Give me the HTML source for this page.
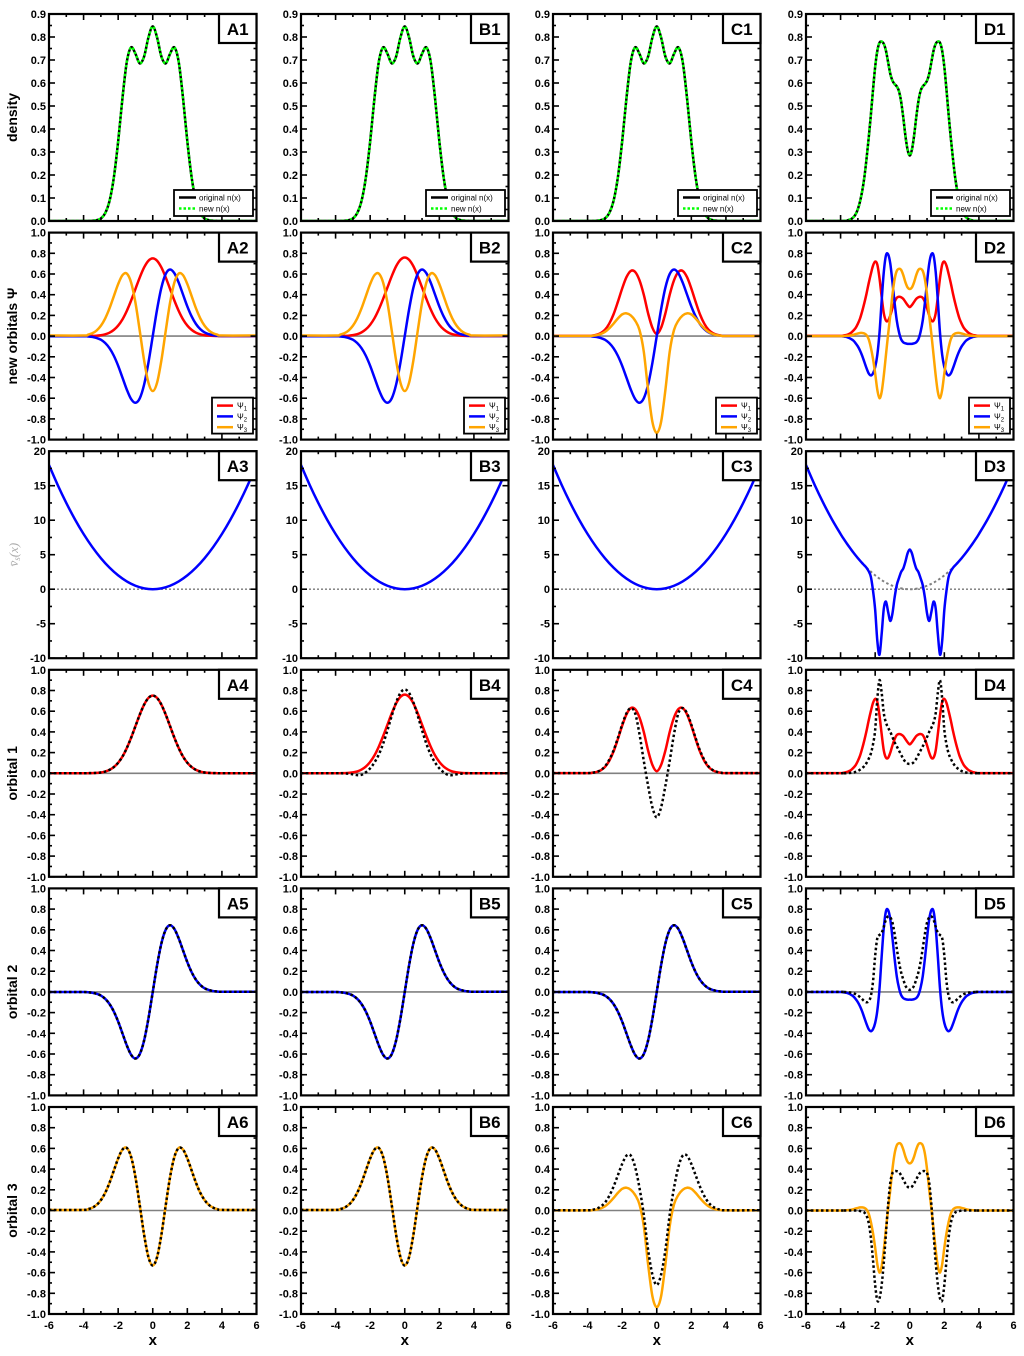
<!DOCTYPE html>
<html><head><meta charset="utf-8"><style>
html,body{margin:0;padding:0;background:#fff;}
svg text{font-family:"Liberation Sans",sans-serif;}
</style></head><body>
<svg id="fig" xmlns="http://www.w3.org/2000/svg" width="1024" height="1351" viewBox="0 0 1024 1351"></svg>
<script>
// ---------- data ----------
const nA = [0,0.0002,0.0008,0.0035,0.011,0.034,0.087,0.189,0.346,0.535,0.692,0.755,0.727,0.685,0.715,0.798,0.846,0.798,0.715,0.685,0.727,0.755,0.692,0.535,0.346,0.189,0.087,0.034,0.011,0.0035,0.0008,0.0002,0];
const psi0A = [0,0.001,0.002,0.004,0.008,0.017,0.033,0.060,0.102,0.162,0.244,0.344,0.456,0.567,0.663,0.728,0.751,0.728,0.663,0.567,0.456,0.344,0.244,0.162,0.102,0.060,0.033,0.017,0.008,0.004,0.002,0.001,0];
const psi1A = [-0.0014,-0.0035,-0.008,-0.018,-0.035,-0.067,-0.117,-0.190,-0.287,-0.402,-0.517,-0.608,-0.644,-0.601,-0.469,-0.257,0,0.257,0.469,0.601,0.644,0.608,0.517,0.402,0.287,0.190,0.117,0.067,0.035,0.018,0.008,0.0035,0.0014];
const psi2A = [0.0055,0.013,0.027,0.054,0.100,0.171,0.268,0.386,0.503,0.589,0.604,0.517,0.322,0.050,-0.234,-0.450,-0.531,-0.450,-0.234,0.050,0.322,0.517,0.604,0.589,0.503,0.386,0.268,0.171,0.100,0.054,0.027,0.013,0.0055];
const bRed = [0,0.001,0.002,0.004,0.009,0.018,0.036,0.065,0.11,0.173,0.258,0.36,0.47,0.58,0.675,0.738,0.76,0.738,0.675,0.58,0.47,0.36,0.258,0.173,0.11,0.065,0.036,0.018,0.009,0.004,0.002,0.001,0];
const bBlack1 = [0,0,-0.001,-0.004,-0.01,-0.018,-0.015,0.01,0.048,0.105,0.181,0.286,0.416,0.557,0.685,0.777,0.81,0.777,0.685,0.557,0.416,0.286,0.181,0.105,0.048,0.01,-0.015,-0.018,-0.01,-0.004,-0.001,0,0];
const cRed = [0.002,0.005,0.012,0.028,0.06,0.12,0.21,0.33,0.46,0.57,0.63,0.62,0.54,0.40,0.22,0.08,0.02,0.08,0.22,0.40,0.54,0.62,0.63,0.57,0.46,0.33,0.21,0.12,0.06,0.028,0.012,0.005,0.002];
const cBlack1 = [0.002,0.005,0.013,0.03,0.065,0.13,0.22,0.34,0.47,0.58,0.63,0.58,0.38,0.12,-0.12,-0.33,-0.425,-0.33,-0.12,0.12,0.38,0.58,0.63,0.58,0.47,0.34,0.22,0.13,0.065,0.03,0.013,0.005,0.002];
const cOrange = [0.001,0.003,0.008,0.02,0.04,0.075,0.12,0.17,0.21,0.22,0.20,0.15,0.06,-0.15,-0.52,-0.83,-0.935,-0.83,-0.52,-0.15,0.06,0.15,0.20,0.22,0.21,0.17,0.12,0.075,0.04,0.02,0.008,0.003,0.001];
const cBlack3 = [0.002,0.006,0.016,0.037,0.075,0.14,0.23,0.34,0.45,0.53,0.53,0.42,0.22,-0.04,-0.38,-0.62,-0.72,-0.62,-0.38,-0.04,0.22,0.42,0.53,0.53,0.45,0.34,0.23,0.14,0.075,0.037,0.016,0.006,0.002];
const dDens = [0,0,0.001,0.002,0.005,0.009,0.017,0.03,0.052,0.085,0.13,0.19,0.27,0.36,0.46,0.57,0.67,0.74,0.775,0.78,0.77,0.74,0.69,0.64,0.61,0.595,0.585,0.565,0.52,0.45,0.37,0.31,
 0.285,0.31,0.37,0.45,0.52,0.565,0.585,0.595,0.61,0.64,0.69,0.74,0.77,0.78,0.775,0.74,0.67,0.57,0.46,0.36,0.27,0.19,0.13,0.085,0.052,0.03,0.017,0.009,0.005,0.002,0.001,0,0];
const dRed = [0.002,0.004,0.008,0.013,0.022,0.035,0.055,0.08,0.12,0.17,0.24,0.32,0.41,0.51,0.60,0.68,0.72,0.69,0.56,0.38,0.22,0.15,0.15,0.20,0.27,0.33,0.37,0.38,0.375,0.36,0.33,0.30,
 0.28,0.30,0.33,0.36,0.375,0.38,0.37,0.33,0.27,0.20,0.15,0.15,0.22,0.38,0.56,0.69,0.72,0.68,0.60,0.51,0.41,0.32,0.24,0.17,0.12,0.08,0.055,0.035,0.022,0.013,0.008,0.004,0.002];
const dBlack1 = [0,0,0,0.001,0.003,0.005,0.008,0.014,0.022,0.035,0.05,0.07,0.10,0.14,0.19,0.28,0.42,0.72,0.90,0.78,0.58,0.49,0.44,0.40,0.35,0.30,0.26,0.22,0.18,0.14,0.11,0.095,
 0.09,0.095,0.11,0.14,0.18,0.22,0.26,0.30,0.35,0.40,0.44,0.49,0.58,0.78,0.90,0.72,0.42,0.28,0.19,0.14,0.10,0.07,0.05,0.035,0.022,0.014,0.008,0.005,0.003,0.001,0,0,0];
const dBlue = [-0.001,-0.003,-0.006,-0.01,-0.018,-0.03,-0.045,-0.07,-0.10,-0.14,-0.19,-0.25,-0.31,-0.36,-0.38,-0.36,-0.30,-0.18,0.03,0.34,0.62,0.78,0.79,0.70,0.52,0.32,0.15,0.04,-0.03,-0.06,-0.07,-0.075,
 -0.075,-0.075,-0.07,-0.06,-0.03,0.04,0.15,0.32,0.52,0.70,0.79,0.78,0.62,0.34,0.03,-0.18,-0.30,-0.36,-0.38,-0.36,-0.31,-0.25,-0.19,-0.14,-0.10,-0.07,-0.045,-0.03,-0.018,-0.01,-0.006,-0.003,-0.001];
const dBlack2 = [0,0,-0.001,-0.003,-0.005,-0.008,-0.014,-0.022,-0.035,-0.05,-0.07,-0.09,-0.10,-0.09,-0.04,0.10,0.35,0.52,0.55,0.57,0.63,0.70,0.73,0.72,0.67,0.56,0.42,0.29,0.19,0.12,0.06,0.03,
 0.02,0.03,0.06,0.12,0.19,0.29,0.42,0.56,0.67,0.72,0.73,0.70,0.63,0.57,0.55,0.52,0.35,0.10,-0.04,-0.09,-0.10,-0.09,-0.07,-0.05,-0.035,-0.022,-0.014,-0.008,-0.005,-0.003,-0.001,0,0];
const dOrange = [0,0,0.001,0.003,0.005,0.008,0.013,0.02,0.025,0.03,0.03,0.025,0.01,-0.03,-0.11,-0.22,-0.36,-0.52,-0.60,-0.54,-0.38,-0.18,0.02,0.20,0.40,0.55,0.63,0.65,0.64,0.59,0.52,0.47,
 0.455,0.47,0.52,0.59,0.64,0.65,0.63,0.55,0.40,0.20,0.02,-0.18,-0.38,-0.54,-0.60,-0.52,-0.36,-0.22,-0.11,-0.03,0.01,0.025,0.03,0.03,0.025,0.02,0.013,0.008,0.005,0.003,0.001,0,0];
const dBlack3 = [0,0,0,0,0,0,0,0,0,-0.005,-0.01,-0.02,-0.05,-0.12,-0.26,-0.48,-0.72,-0.87,-0.85,-0.72,-0.50,-0.22,0.06,0.27,0.36,0.38,0.38,0.37,0.34,0.30,0.26,0.23,
 0.22,0.23,0.26,0.30,0.34,0.37,0.38,0.38,0.36,0.27,0.06,-0.22,-0.50,-0.72,-0.85,-0.87,-0.72,-0.48,-0.26,-0.12,-0.05,-0.02,-0.01,-0.005,0,0,0,0,0,0,0,0,0];
const potA = [18,15.125,12.5,10.125,8,6.125,4.5,3.125,2,1.125,0.5,0.125,0,0.125,0.5,1.125,2,3.125,4.5,6.125,8,10.125,12.5,15.125,18];
const potDOuterL = [18,15.125,12.5,10.125];
const potDOuterR = [10.125,12.5,15.125,18];
const potD = [8.0,7.5,7.03,6.57,6.13,5.7,5.28,4.88,4.5,4.13,3.78,3.45,3.1,2.6,1.8,-0.2,-3.0,-7.5,-9.5,-6.5,-2.8,-1.8,-3.3,-4.6,-3.5,-1.2,0.6,1.6,2.5,3.0,4.0,5.2,
 5.75,5.2,4.0,3.0,2.5,1.6,0.6,-1.2,-3.5,-4.6,-3.3,-1.8,-2.8,-6.5,-9.5,-7.5,-3.0,-0.2,1.8,2.6,3.1,3.45,3.78,4.13,4.5,4.88,5.28,5.7,6.13,6.57,7.03,7.5,8.0];
const xTickLabels = ["-6","-4","-2","0","2","4","6"];
const colLetters = ["A","B","C","D"];
const rowTitles = ["density","new orbitals Ψ","","orbital 1","orbital 2","orbital 3"];

function grid(a,b,s){const g=[];for(let x=a;x<=b+1e-9;x+=s)g.push(+x.toFixed(4));return g;}
const gA = grid(-4,4,0.25), gD = grid(-4,4,0.125), gP = grid(-6,6,0.5);
const gPD = [-6,-5.5,-5,-4.5].concat(gD,[4.5,5,5.5,6]);
const potDFull = potDOuterL.concat(potD, potDOuterR);

// ---------- layout ----------
const NS="http://www.w3.org/2000/svg";
const svg=document.getElementById('fig');
const LEFTS=[49,301,553,806], W=207.5, TOP0=14, RSTEP=218.6, H=207;
function el(tag,attrs,parent){const e=document.createElementNS(NS,tag);for(const k in attrs)e.setAttribute(k,attrs[k]);(parent||svg).appendChild(e);return e;}
function smooth(pts){
  let d='M'+pts[0][0].toFixed(2)+','+pts[0][1].toFixed(2);
  for(let i=0;i<pts.length-1;i++){
    const p0=pts[i-1]||pts[i],p1=pts[i],p2=pts[i+1],p3=pts[i+2]||p2;
    const c1=[p1[0]+(p2[0]-p0[0])/6,p1[1]+(p2[1]-p0[1])/6];
    const c2=[p2[0]-(p3[0]-p1[0])/6,p2[1]-(p3[1]-p1[1])/6];
    d+='C'+c1[0].toFixed(2)+','+c1[1].toFixed(2)+' '+c2[0].toFixed(2)+','+c2[1].toFixed(2)+' '+p2[0].toFixed(2)+','+p2[1].toFixed(2);
  }
  return d;
}
let clipId=0;
function makePanel(c,r,ymin,ymax,ystep,ydec){
  const L=LEFTS[c], T=TOP0+r*RSTEP;
  const g=el('g',{});
  
  
  const sx=x=>L+(x+6)/12*W, sy=y=>T+H-(y-ymin)/(ymax-ymin)*H;
  const id='cp'+(clipId++);
  const cp=el('clipPath',{id:id},g); el('rect',{x:L,y:T,width:W,height:H},cp);
  const plot=el('g',{'clip-path':'url(#'+id+')'},g);
  return {L,T,g,plot,sx,sy,ymin,ymax,ystep,ydec};
}
function finishPanel(P,c,r,showX){
  const {L,T,g,sx,sy,ymin,ymax,ystep,ydec}=P;
  const tk=el('g',{stroke:'#000','stroke-width':1.6},g);
   
  for(let x=-6;x<=6;x++){const len=(x%2===0)?6:3;const X=sx(x);
    el('line',{x1:X,y1:T+H,x2:X,y2:T+H-len},tk);el('line',{x1:X,y1:T,x2:X,y2:T+len},tk);}
  const n=Math.round((ymax-ymin)/ystep);
  for(let i=0;i<=2*n;i++){const y=ymin+i*ystep/2;const len=(i%2===0)?6:3;const Y=sy(y);
    el('line',{x1:L,y1:Y,x2:L+len,y2:Y},tk);el('line',{x1:L+W,y1:Y,x2:L+W-len,y2:Y},tk);}
  for(let i=0;i<=n;i++){const y=ymin+i*ystep;
    const t=el('text',{x:L-3,y:sy(y)+4,'text-anchor':'end','font-size':11,'font-weight':'bold'},g);
     
    t.textContent=(Math.abs(y)<1e-9?0:y).toFixed(ydec);}
  if(showX){xTickLabels.forEach(s=>{const t=el('text',{x:sx(+s),y:T+H+15,'text-anchor':'middle','font-size':11,'font-weight':'bold'},g);
        t.textContent=s;});
    const xt=el('text',{x:L+W/2,y:T+H+31,'text-anchor':'middle','font-size':15,'font-weight':'bold'},g);
      xt.textContent='x';}
  el('rect',{x:L,y:T,width:W,height:H,fill:'none',stroke:'#000','stroke-width':2.2},g);
  const lb=el('g',{},g);  
  el('rect',{x:L+170,y:T,width:37.5,height:29,fill:'#fff',stroke:'#000','stroke-width':2.2},lb);
  const lt=el('text',{x:L+188.7,y:T+21,'text-anchor':'middle','font-size':17,'font-weight':'bold'},lb);
  lt.textContent=colLetters[c]+(r+1);
}
function series(P,xs,ys,color,width,dash,name,noExtend){
  const pts=[];
  if(!noExtend && xs[0]>-6)pts.push([P.sx(-6),P.sy(ys[0])]);
  xs.forEach((x,i)=>pts.push([P.sx(x),P.sy(ys[i])]));
  if(!noExtend && xs[xs.length-1]<6)pts.push([P.sx(6),P.sy(ys[ys.length-1])]);
  const p=el('path',{d:smooth(pts),fill:'none',stroke:color,'stroke-width':width},P.plot);
  if(dash)p.setAttribute('stroke-dasharray',dash);
   
  return p;
}
function zeroLine(P){const l=el('line',{x1:P.sx(-6),x2:P.sx(6),y1:P.sy(0),y2:P.sy(0),stroke:'#808080','stroke-width':1.6},P.plot);
   }

const RED='#ff0000',BLUE='#0000ff',ORANGE='#ffa500',GREEN='#00ff00';
const DOT='2.5 2.5';
const cols=[
 {n:[gA,nA], o1:[gA,psi0A], o2:[gA,psi1A], o3:[gA,psi2A], r1:[gA,psi0A], r2:[gA,psi1A], r3:[gA,psi2A], pot:[gP,potA]},
 {n:[gA,nA], o1:[gA,bRed], o2:[gA,psi1A], o3:[gA,psi2A], r1:[gA,bBlack1], r2:[gA,psi1A], r3:[gA,psi2A], pot:[gP,potA]},
 {n:[gA,nA], o1:[gA,cRed], o2:[gA,psi1A], o3:[gA,cOrange], r1:[gA,cBlack1], r2:[gA,psi1A], r3:[gA,cBlack3], pot:[gP,potA]},
 {n:[gD,dDens], o1:[gD,dRed], o2:[gD,dBlue], o3:[gD,dOrange], r1:[gD,dBlack1], r2:[gD,dBlack2], r3:[gD,dBlack3], pot:[gPD,potDFull]}
];

cols.forEach((C,c)=>{
  let P=makePanel(c,0,0,0.9,0.1,1);
  series(P,C.n[0],C.n[1],'#000',2.5,null,'original-density-line');
  series(P,C.n[0],C.n[1],GREEN,2.5,'2.5 2','new-density-line');
  finishPanel(P,c,0,false);
  const lg=el('g',{},P.g);  
  el('rect',{x:P.L+125,y:P.T+176,width:79,height:26,fill:'#fff',stroke:'#000','stroke-width':1.8},lg);
  el('line',{x1:P.L+130,x2:P.L+147,y1:P.T+183.5,y2:P.T+183.5,stroke:'#000','stroke-width':2.5},lg);
  el('line',{x1:P.L+130,x2:P.L+147,y1:P.T+194.5,y2:P.T+194.5,stroke:GREEN,'stroke-width':2.5,'stroke-dasharray':'2.5 2'},lg);
  let t=el('text',{x:P.L+150,y:P.T+186.5,'font-size':8},lg); t.textContent='original n(x)';
  t=el('text',{x:P.L+150,y:P.T+197.5,'font-size':8},lg); t.textContent='new n(x)';

  P=makePanel(c,1,-1,1,0.2,1);
  zeroLine(P);
  series(P,C.o1[0],C.o1[1],RED,2.5,null,'psi1-line');
  series(P,C.o2[0],C.o2[1],BLUE,2.5,null,'psi2-line');
  series(P,C.o3[0],C.o3[1],ORANGE,2.5,null,'psi3-line');
  finishPanel(P,c,1,false);
  const lg2=el('g',{},P.g);  
  el('rect',{x:P.L+163,y:P.T+165,width:41,height:36,fill:'#fff',stroke:'#000','stroke-width':1.8},lg2);
  [[RED,'1'],[BLUE,'2'],[ORANGE,'3']].forEach((e,i)=>{
    const y=P.T+173+i*10.8;
    el('line',{x1:P.L+168,x2:P.L+184,y1:y,y2:y,stroke:e[0],'stroke-width':2.5},lg2);
    const tt=el('text',{x:P.L+188,y:y+3,'font-size':8},lg2);
    tt.textContent='Ψ';
    const s=el('tspan',{'font-size':6,dy:2},tt); s.textContent=e[1];
  });

  P=makePanel(c,2,-10,20,5,0);
  const zl=el('line',{x1:P.sx(-6),x2:P.sx(6),y1:P.sy(0),y2:P.sy(0),stroke:'#777','stroke-width':1.3,'stroke-dasharray':'2 2'},P.plot);
   
  if(c===3){
    const inner=gP.map((x,i)=>[x,potA[i]]).filter(p=>Math.abs(p[0])<=2.5);
    series(P,inner.map(p=>p[0]),inner.map(p=>p[1]),'#808080',2,'2.5 2.5','reference-potential-line',true);
  }
  series(P,C.pot[0],C.pot[1],BLUE,2.5,null,'kohn-sham-potential-line');
  finishPanel(P,c,2,false);

  [[C.o1,C.r1,RED],[C.o2,C.r2,BLUE],[C.o3,C.r3,ORANGE]].forEach((s,k)=>{
    const Q=makePanel(c,3+k,-1,1,0.2,1);
    zeroLine(Q);
    series(Q,s[0][0],s[0][1],s[2],2.5,null,'new-orbital-'+(k+1)+'-line');
    series(Q,s[1][0],s[1][1],'#000',2.5,DOT,'original-orbital-'+(k+1)+'-line');
    finishPanel(Q,c,3+k,k===2);
  });
});

rowTitles.forEach((s,r)=>{
  const cy=TOP0+r*RSTEP+H/2;
  if(r===2){
    const t=el('text',{x:0,y:0,transform:'translate(18,'+cy+') rotate(-90)','text-anchor':'middle','font-size':13,'font-style':'italic',fill:'#aaa',style:'font-family:"Liberation Serif",serif'});
     
    t.textContent='v̄';
    const s1=el('tspan',{'font-size':9,dy:2},t); s1.textContent='s';
    const s2=el('tspan',{dy:-2},t); s2.textContent='(x)';
    return;
  }
  const t=el('text',{x:0,y:0,transform:'translate(17,'+cy+') rotate(-90)','text-anchor':'middle','font-size':14,'font-weight':'bold'});
   
  t.textContent=s;
});
</script>
</body></html>
